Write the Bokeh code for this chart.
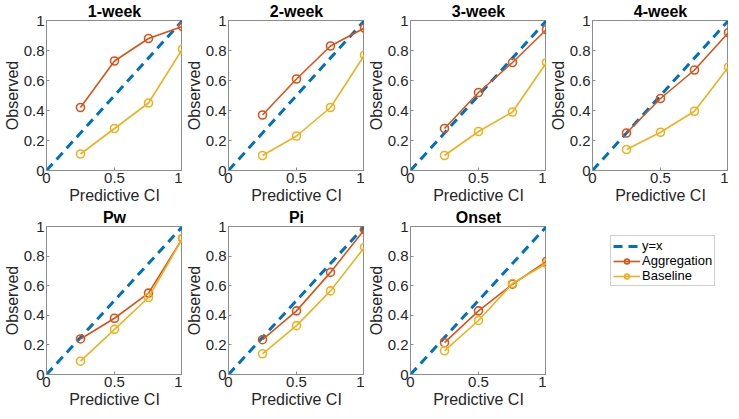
from bokeh.plotting import figure
from bokeh.layouts import row, column
from bokeh.models import Range1d, FixedTicker, Legend, LegendItem
from bokeh.embed import file_html
from bokeh.resources import INLINE

# ---------------- data ----------------
ci_levels = [0.25, 0.5, 0.75, 1.0]
titles = ["1-week", "2-week", "3-week", "4-week", "Pw", "Pi", "Onset"]

agg_1week = [0.42, 0.73, 0.88, 0.96]
base_1week = [0.11, 0.28, 0.45, 0.81]
agg_2week = [0.37, 0.61, 0.83, 0.95]
base_2week = [0.10, 0.23, 0.42, 0.77]
agg_3week = [0.28, 0.52, 0.72, 0.94]
base_3week = [0.10, 0.26, 0.39, 0.72]
agg_4week = [0.25, 0.48, 0.67, 0.92]
base_4week = [0.14, 0.255, 0.395, 0.69]
agg_pw = [0.24, 0.38, 0.55, 0.92]
base_pw = [0.09, 0.305, 0.52, 0.92]
agg_pi = [0.235, 0.43, 0.69, 0.98]
base_pi = [0.14, 0.33, 0.565, 0.86]
agg_onset = [0.215, 0.43, 0.61, 0.765]
base_onset = [0.16, 0.365, 0.615, 0.75]

agg_series = [agg_1week, agg_2week, agg_3week, agg_4week, agg_pw, agg_pi, agg_onset]
base_series = [base_1week, base_2week, base_3week, base_4week, base_pw, base_pi, base_onset]

diag_x = [0, 1]
diag_y = [0, 1]

x_ticks = [0, 0.5, 1]
x_tick_labels = ["0", "0.5", "1"]
y_ticks = [0, 0.2, 0.4, 0.6, 0.8, 1]
y_tick_labels = ["0", "0.2", "0.4", "0.6", "0.8", "1"]

legend_labels = ["y=x", "Aggregation", "Baseline"]

# ---------------- style ----------------
FONT = "Liberation Sans"
BLUE = "#0072BD"
ORANGE = "#D95319"
YELLOW = "#EDB120"
AXIS_COLOR = "#8c8c8c"
TEXT_COLOR = "#262626"

FIG_W = 182
ROW1_H = 206
ROW2_H = 204


def style_axis(ax, ticks, labels, axis_label, tick_standoff, label_standoff):
    ax.ticker = FixedTicker(ticks=ticks)
    ax.major_label_overrides = {t: l for t, l in zip(ticks, labels)}
    ax.major_tick_in = 3
    ax.major_tick_out = 0
    ax.minor_tick_line_color = None
    ax.major_tick_line_color = AXIS_COLOR
    ax.axis_line_color = AXIS_COLOR
    ax.major_label_text_font = FONT
    ax.major_label_text_color = TEXT_COLOR
    ax.major_label_text_font_size = "15px"
    ax.major_label_standoff = tick_standoff
    ax.axis_label = axis_label
    ax.axis_label_text_font = FONT
    ax.axis_label_text_font_size = "16px"
    ax.axis_label_text_font_style = "normal"
    ax.axis_label_text_color = TEXT_COLOR
    ax.axis_label_standoff = label_standoff


def add_series(p, i):
    r_diag = p.line(diag_x, diag_y, line_color=BLUE, line_width=3, line_dash="9 6")
    r_agg_l = p.line(ci_levels, agg_series[i], line_color=ORANGE, line_width=1.6)
    r_agg_m = p.scatter(ci_levels, agg_series[i], marker="circle", size=8,
                        fill_color=None, line_color=ORANGE, line_width=1.6)
    r_base_l = p.line(ci_levels, base_series[i], line_color=YELLOW, line_width=1.6)
    r_base_m = p.scatter(ci_levels, base_series[i], marker="circle", size=8,
                         fill_color=None, line_color=YELLOW, line_width=1.6)
    return r_diag, (r_agg_l, r_agg_m), (r_base_l, r_base_m)


def make_panel(i, h):
    p = figure(width=FIG_W, height=h,
               x_range=Range1d(0, 1), y_range=Range1d(0, 1),
               output_backend="svg", toolbar_location=None,
               min_border_left=36, min_border_right=0,
               min_border_top=0, min_border_bottom=0)
    p.title.text = titles[i]
    p.title.align = "center"
    p.title.text_font = FONT
    p.title.text_font_size = "16px"
    p.title.text_font_style = "bold"
    p.title.text_color = "black"
    p.title.standoff = 1
    p.title.offset = 0
    p.grid.visible = False
    p.outline_line_color = AXIS_COLOR
    p.background_fill_color = "white"
    p.border_fill_color = "white"
    style_axis(p.xaxis[0], x_ticks, x_tick_labels, "Predictive CI", 2, 1)
    style_axis(p.yaxis[0], y_ticks, y_tick_labels, "Observed", 2, 0)
    add_series(p, i)
    return p


def make_legend_panel(h):
    # legend-only cell; its renderers sit outside the visible range
    p = figure(width=176, height=h, title=None,
               x_range=Range1d(5, 6), y_range=Range1d(5, 6),
               x_axis_location=None, y_axis_location=None,
               output_backend="svg", toolbar_location=None,
               min_border_left=0, min_border_right=0,
               min_border_top=0, min_border_bottom=0)
    p.grid.visible = False
    p.outline_line_color = None
    p.background_fill_color = "white"
    p.border_fill_color = "white"
    r_diag, r_agg, r_base = add_series(p, 6)
    legend = Legend(items=[
        LegendItem(label=legend_labels[0], renderers=[r_diag]),
        LegendItem(label=legend_labels[1], renderers=list(r_agg)),
        LegendItem(label=legend_labels[2], renderers=list(r_base)),
    ])
    # (x, y) is the legend's bottom-left corner, in pixels from the frame's bottom-left;
    # this cell's frame is aligned with the frames of the other plots in the row
    legend.location = (64, 88)
    legend.label_text_font = FONT
    legend.label_text_font_size = "13px"
    legend.label_text_color = "black"
    legend.glyph_width = 27
    legend.glyph_height = 12
    legend.label_height = 12
    legend.label_standoff = 2
    legend.spacing = 0
    legend.padding = 2
    legend.margin = 0
    legend.border_line_color = "#a0a0a0"
    legend.border_line_width = 1
    legend.background_fill_color = "white"
    legend.background_fill_alpha = 1
    p.add_layout(legend, "center")
    return p


panels = [make_panel(i, ROW1_H if i < 4 else ROW2_H) for i in range(7)]
legend_cell = make_legend_panel(ROW2_H)
layout = column(row(*panels[:4]), row(*panels[4:], legend_cell))

open("out.html", "w").write(file_html(layout, INLINE))
